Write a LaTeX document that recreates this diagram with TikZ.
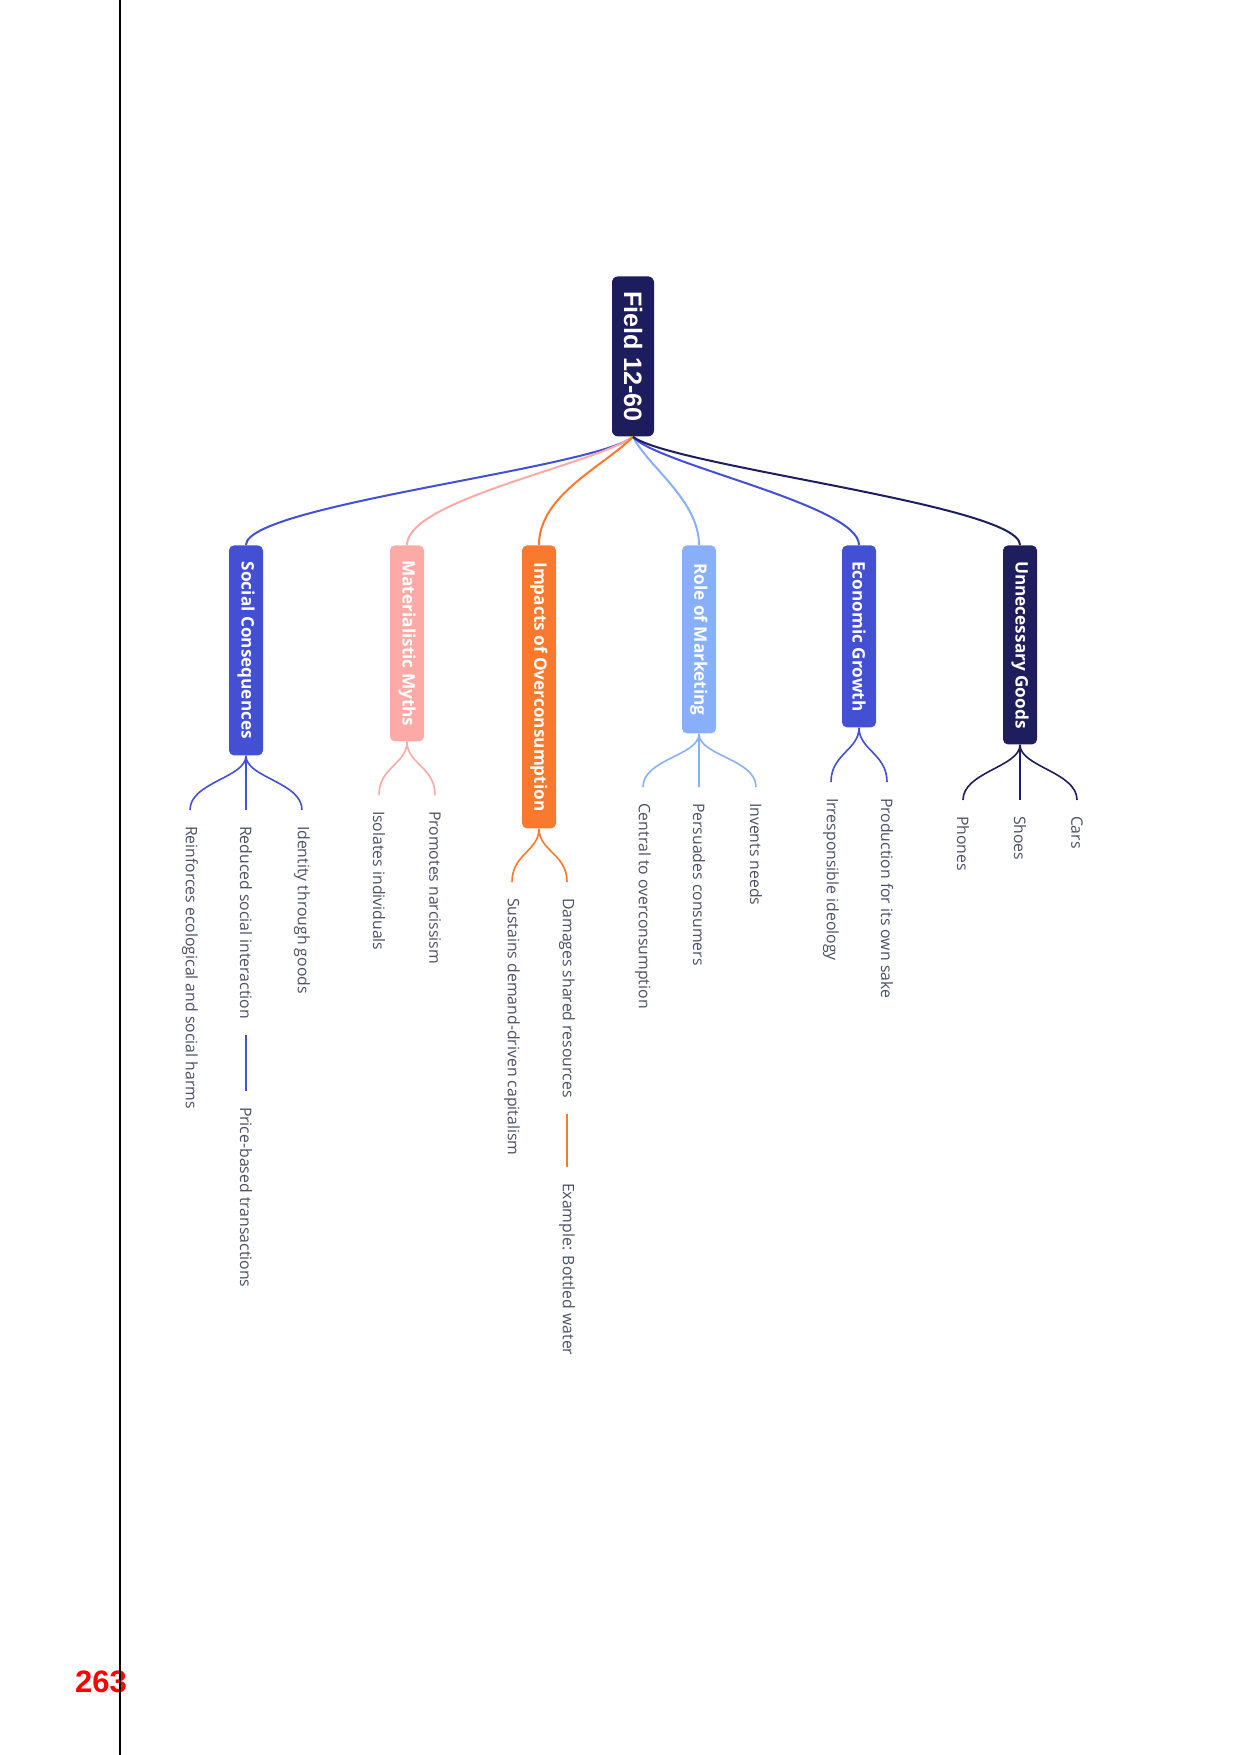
\documentclass[tikz,border=0pt]{standalone}
\usepackage{fontspec}
\setmainfont{Open Sans}
\newfontfamily\rootfont{Liberation Sans}
\definecolor{navy}{RGB}{29,28,92}
\definecolor{navyb}{RGB}{30,30,94}
\definecolor{socc}{RGB}{67,80,212}
\definecolor{matc}{RGB}{252,170,165}
\definecolor{impc}{RGB}{249,122,46}
\definecolor{rolec}{RGB}{136,176,250}
\definecolor{leaftxt}{RGB}{75,80,100}
\begin{document}
\begin{tikzpicture}[x=0.5pt,y=-0.5pt,
  box/.style={rotate=-90, anchor=west, rounded corners=2.5pt, inner sep=0pt,
    minimum height=17pt, text=white, font=\fontsize{8.6}{10}\selectfont\bfseries},
  leaf/.style={rotate=-90, anchor=west, inner sep=0pt, outer xsep=8pt,
    text=leaftxt, font=\fontsize{7.9}{9}\selectfont},
  rootlink/.style={line width=1pt},
  forklink/.style={line width=0.8pt},
]
\useasboundingbox (0,0) rectangle (1241,1755);
\fill[white] (0,0) rectangle (1241,1755);

% page number and margin line
\node[font=\rootfont\bfseries\fontsize{15.5}{17}\selectfont, text=red, inner sep=0pt] (pg) at (101,1682) {263};
\draw[line width=0.6pt] (120,0) -- (120,1755);

% root
\node[box, fill=navy, minimum width=80pt, minimum height=21pt, rounded corners=3pt,
  font=\rootfont\bfseries\fontsize{12.6}{14}\selectfont] (root) at (633,276) {Field 12-60};

% main branches
\node[box, fill=socc, minimum width=105pt] (soc) at (246,545) {Social Consequences};
\node[box, fill=matc, minimum width=98pt] (mat) at (407,545) {Materialistic Myths};
\node[box, fill=impc, minimum width=141.5pt] (imp) at (539,545) {Impacts of Overconsumption};
\node[box, fill=rolec, minimum width=94pt] (role) at (699,545) {Role of Marketing};
\node[box, fill=socc, minimum width=91pt] (eco) at (859,545) {Economic Growth};
\node[box, fill=navyb, minimum width=99.5pt] (unn) at (1020,545) {Unnecessary Goods};

\draw[rootlink, socc] (root.east) .. controls +(-40,32) and +(0,-40) .. (soc.west);
\draw[rootlink, matc] (root.east) .. controls +(-40,28) and +(0,-45) .. (mat.west);
\draw[rootlink, impc] (root.east) .. controls +(-30,30) and +(0,-50) .. (imp.west);
\draw[rootlink, rolec] (root.east) .. controls +(15,30) and +(0,-45) .. (role.west);
\draw[rootlink, socc] (root.east) .. controls +(25,28) and +(0,-40) .. (eco.west);
\draw[rootlink, navyb] (root.east) .. controls +(40,30) and +(0,-40) .. (unn.west);

% leaves: Social Consequences
\node[leaf] (s1) at (190,810) {Reinforces ecological and social harms};
\node[leaf] (s2) at (246,810) {Reduced social interaction};
\node[leaf] (s3) at (302,810) {Identity through goods};
\node[leaf] (s2b) at (246,1091) {Price-based transactions};
\draw[forklink, socc] (soc.east) .. controls +(0,22) and +(0,-28) .. (s1.west);
\draw[forklink, socc] (soc.east) -- (s2.west);
\draw[forklink, socc] (soc.east) .. controls +(0,22) and +(0,-28) .. (s3.west);
\draw[forklink, socc] (s2.east) -- (s2b.west);

% Materialistic Myths
\node[leaf] (m1) at (379,795) {Isolates individuals};
\node[leaf] (m2) at (435,795) {Promotes narcissism};
\draw[forklink, matc] (mat.east) .. controls +(0,22) and +(0,-28) .. (m1.west);
\draw[forklink, matc] (mat.east) .. controls +(0,22) and +(0,-28) .. (m2.west);

% Impacts of Overconsumption
\node[leaf] (i1) at (512,882) {Sustains demand-driven capitalism};
\node[leaf] (i2) at (567,882) {Damages shared resources};
\node[leaf] (i2b) at (567,1167) {Example: Bottled water};
\draw[forklink, impc] (imp.east) .. controls +(0,22) and +(0,-28) .. (i1.west);
\draw[forklink, impc] (imp.east) .. controls +(0,22) and +(0,-28) .. (i2.west);
\draw[forklink, impc] (i2.east) -- (i2b.west);

% Role of Marketing
\node[leaf] (r1) at (643,787) {Central to overconsumption};
\node[leaf] (r2) at (699,787) {Persuades consumers};
\node[leaf] (r3) at (756,787) {Invents needs};
\draw[forklink, rolec] (role.east) .. controls +(0,22) and +(0,-28) .. (r1.west);
\draw[forklink, rolec] (role.east) -- (r2.west);
\draw[forklink, rolec] (role.east) .. controls +(0,22) and +(0,-28) .. (r3.west);

% Economic Growth
\node[leaf] (e1) at (831,782) {Irresponsible ideology};
\node[leaf] (e2) at (887,782) {Production for its own sake};
\draw[forklink, socc] (eco.east) .. controls +(0,22) and +(0,-28) .. (e1.west);
\draw[forklink, socc] (eco.east) .. controls +(0,22) and +(0,-28) .. (e2.west);

% Unnecessary Goods
\node[leaf] (u1) at (963,800) {Phones};
\node[leaf] (u2) at (1020,800) {Shoes};
\node[leaf] (u3) at (1077,800) {Cars};
\draw[forklink, navyb] (unn.east) .. controls +(0,22) and +(0,-28) .. (u1.west);
\draw[forklink, navyb] (unn.east) -- (u2.west);
\draw[forklink, navyb] (unn.east) .. controls +(0,22) and +(0,-28) .. (u3.west);
\end{tikzpicture}
\end{document}
